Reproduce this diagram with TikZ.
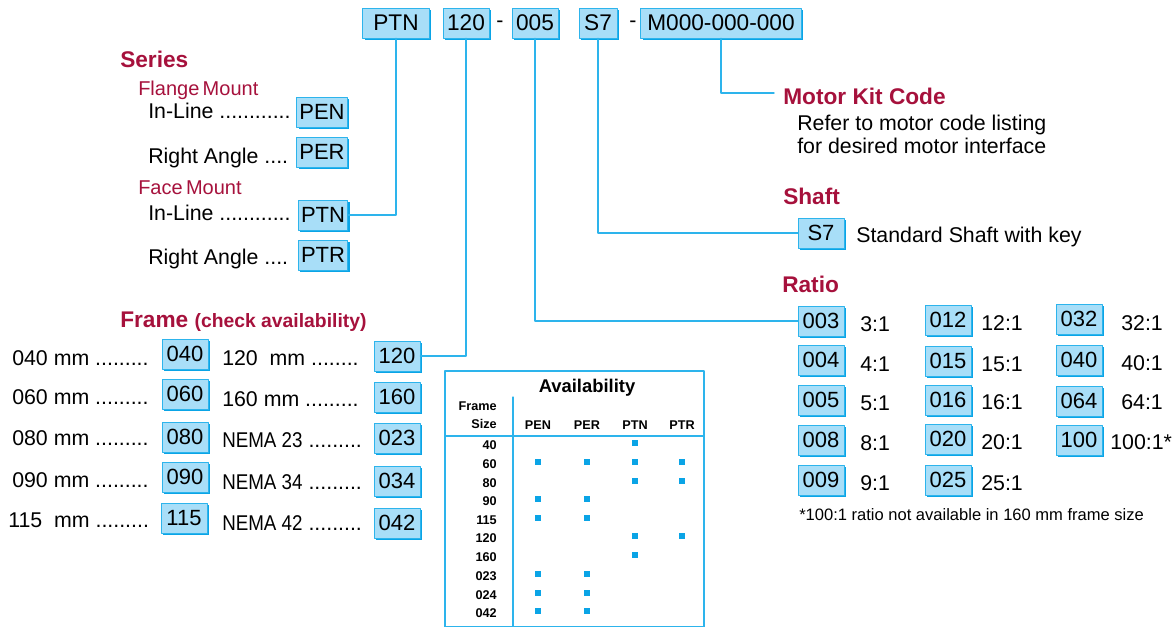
\documentclass[tikz,border=0pt]{standalone}
\usepackage{fontspec}
\setmainfont{Liberation Sans}
\newfontfamily\narrowfont[FakeStretch=0.88]{Liberation Sans}
\usepackage{xcolor}
\usetikzlibrary{shadows, calc}
\definecolor{codefill}{HTML}{A8DEF8}
\definecolor{codeline}{HTML}{2DB4EC}
\definecolor{codeshadow}{HTML}{0AA4E6}
\definecolor{headred}{HTML}{A6113C}

\begin{document}
\begin{tikzpicture}[x=0.75pt, y=-0.75pt, line cap=round, line join=round,
	code/.style={draw=codeline, line width=0.6pt, fill=codefill, inner xsep=2pt, inner ysep=0pt,
		minimum height=22.5pt, minimum width=34.5pt, font=\fontsize{16.5}{18}\selectfont,
		drop shadow={shadow xshift=1.5pt, shadow yshift=-1.5pt, fill=codeshadow, opacity=1}},
	txt/.style={anchor=west, inner sep=0pt, font=\fontsize{16}{19}\selectfont},
	head/.style={anchor=base west, inner sep=0pt, text=headred, font=\bfseries\fontsize{17}{20}\selectfont},
	sub/.style={anchor=base west, inner sep=0pt, text=headred, font=\fontsize{15}{18}\selectfont},
	lead/.style={draw=codeline, line width=1pt},
	avtext/.style={inner sep=0pt, font=\bfseries\fontsize{9.5}{11}\selectfont},
	avdot/.style={fill=codeshadow, minimum size=4pt, inner sep=0pt}]
	\useasboundingbox (0,0) rectangle (1176,626);
	
	% model code
	\node[code, minimum width=50pt, font=\fontsize{17}{18}\selectfont] (tPTN) at (396,23) {PTN};
	\node[code, font=\fontsize{17}{18}\selectfont] (t120) at (466,23) {120};
	\node[txt, anchor=center] (dashA) at (500,24) {-};
	\node[code, font=\fontsize{17}{18}\selectfont] (t005) at (535,23) {005};
	\node[code, minimum width=28.5pt, font=\fontsize{17}{18}\selectfont] (tS7) at (598,23) {S7};
	\node[txt, anchor=center] (dashB) at (633,24) {-};
	\node[code, inner xsep=5pt, font=\fontsize{17}{18}\selectfont] (tMotor) at (721,23) {M000-000-000};
	
	% series
	\node[head] (series) at (120,67) {Series};
	\node[sub] (flange) at (138,95) {Flange\,Mount};
	\node[txt, anchor=base west] (flIn) at (148,118) {In-Line ............};
	\node[code] (sPEN) at (322,112) {PEN};
	\node[txt, anchor=base west] (flRa) at (148,163) {Right Angle ....};
	\node[code] (sPER) at (322,152) {PER};
	\node[sub] (face) at (138,194) {Face\,Mount};
	\node[txt, anchor=base west] (fcIn) at (148,220) {In-Line ............};
	\node[code] (sPTN) at (323,215) {PTN};
	\node[txt, anchor=base west] (fcRa) at (148,264) {Right Angle ....};
	\node[code] (sPTR) at (323,255) {PTR};
	
	% frame
	\node[head] (frame) at (120,327) {Frame \fontsize{14.5}{17}\selectfont(check availability)};
	\node[txt] (l040) at (12,358) {040 mm .........};
	\node[code] (f040) at (185,354) {040};
	\node[txt] (l060) at (12,397) {060 mm .........};
	\node[code] (f060) at (185,394) {060};
	\node[txt] (l080) at (12,438) {080 mm .........};
	\node[code] (f080) at (185,437) {080};
	\node[txt] (l090) at (12,480) {090 mm .........};
	\node[code] (f090) at (185,477) {090};
	\node[txt] (l115) at (8,520) {115\ \ mm .........};
	\node[code] (f115) at (184,518) {115};
	\node[txt] (l120) at (222,358) {120\ \ mm ........};
	\node[code] (f120) at (397,356) {120};
	\node[txt] (l160) at (222,399) {160 mm .........};
	\node[code] (f160) at (397,397) {160};
	\node[txt] (l023) at (222,440) {{\narrowfont NEMA 23} .........};
	\node[code] (f023) at (397,438) {023};
	\node[txt] (l034) at (222,482) {{\narrowfont NEMA 34} .........};
	\node[code] (f034) at (397,481) {034};
	\node[txt] (l042) at (222,523) {{\narrowfont NEMA 42} .........};
	\node[code] (f042) at (397,523) {042};
	
	% availability table
	\draw[codeline, line width=1.5pt] (445,371) rectangle (704,627);
	\draw[codeline, line width=1pt] (445,436) -- (704,436);
	\draw[codeline, line width=1pt] (513,397) -- (513,627);
	\node[avtext, anchor=base, font=\bfseries\fontsize{13.8}{16}\selectfont] (avTitle) at (587,392) {Availability};
	\node[avtext, anchor=base east] (avFrame) at (497,410) {Frame};
	\node[avtext, anchor=base east] (avSize) at (497,428) {Size};
	\node[avtext, anchor=base] (cPEN) at (538,429) {PEN};
	\node[avtext, anchor=base] (cPER) at (587,429) {PER};
	\node[avtext, anchor=base] (cPTN) at (635,429) {PTN};
	\node[avtext, anchor=base] (cPTR) at (682,429) {PTR};
	\node[avtext, anchor=base east] (r40) at (497,449) {40};
	\node[avtext, anchor=base east] (r60) at (497,468) {60};
	\node[avtext, anchor=base east] (r80) at (497,487) {80};
	\node[avtext, anchor=base east] (r90) at (497,505) {90};
	\node[avtext, anchor=base east] (r115) at (497,524) {115};
	\node[avtext, anchor=base east] (r120) at (497,542) {120};
	\node[avtext, anchor=base east] (r160) at (497,561) {160};
	\node[avtext, anchor=base east] (r023) at (497,580) {023};
	\node[avtext, anchor=base east] (r024) at (497,599) {024};
	\node[avtext, anchor=base east] (r042) at (497,617) {042};
	\foreach \px/\py in {635/443,
		538/462, 587/462, 635/462, 682/462,
		635/481, 682/481,
		538/499, 587/499,
		538/518, 587/518,
		635/536, 682/536,
		635/555,
		538/574, 587/574,
		538/593, 587/593,
		538/611, 587/611}
		\node[avdot] at (\px,\py) {};
	
	% motor kit code
	\node[head] (motor) at (783,104) {Motor Kit Code};
	\node[txt, anchor=base west] (motorA) at (797,130) {Refer to motor code listing};
	\node[txt, anchor=base west] (motorB) at (797,153) {for desired motor interface};
	\coordinate (motorEnd) at (774,93);
	
	% shaft
	\node[head] (shaft) at (783,204) {Shaft};
	\node[code] (shS7) at (821,233) {S7};
	\node[txt, anchor=base west] (shText) at (856,242) {Standard Shaft with key};
	
	% ratio
	\node[head] (ratio) at (782,292) {Ratio};
	\node[code] (r003) at (821,321) {003};
	\node[txt] at (860,324) {3:1};
	\node[code] (r004) at (821,360) {004};
	\node[txt] at (860,364) {4:1};
	\node[code] (r005) at (821,400) {005};
	\node[txt] at (860,403) {5:1};
	\node[code] (r008) at (821,440) {008};
	\node[txt] at (860,443) {8:1};
	\node[code] (r009) at (821,480) {009};
	\node[txt] at (860,483) {9:1};
	\node[code] (r012) at (948,320) {012};
	\node[txt] at (981,323) {12:1};
	\node[code] (r015) at (948,361) {015};
	\node[txt] at (981,364) {15:1};
	\node[code] (r016) at (948,400) {016};
	\node[txt] at (981,402) {16:1};
	\node[code] (r020) at (948,439) {020};
	\node[txt] at (981,442) {20:1};
	\node[code] (r025) at (948,480) {025};
	\node[txt] at (981,483) {25:1};
	\node[code] (r032) at (1079,319) {032};
	\node[txt] at (1121,323) {32:1};
	\node[code] (r040) at (1079,360) {040};
	\node[txt] at (1121,363) {40:1};
	\node[code] (r064) at (1079,401) {064};
	\node[txt] at (1121,402) {64:1};
	\node[code] (r100) at (1079,440) {100};
	\node[txt] at (1110,442) {100:1*};
	\node[txt, font=\fontsize{12.4}{14}\selectfont] (note) at (799,515) {*100:1 ratio not available in 160 mm frame size};
	
	% leaders
	\draw[lead] (tPTN.south) |- (sPTN.east);
	\draw[lead] (t120.south) |- (f120.east);
	\draw[lead] (t005.south) |- (r003.west);
	\draw[lead] (tS7.south) |- (shS7.west);
	\draw[lead] (tMotor.south) |- (motorEnd);
\end{tikzpicture}
\end{document}
